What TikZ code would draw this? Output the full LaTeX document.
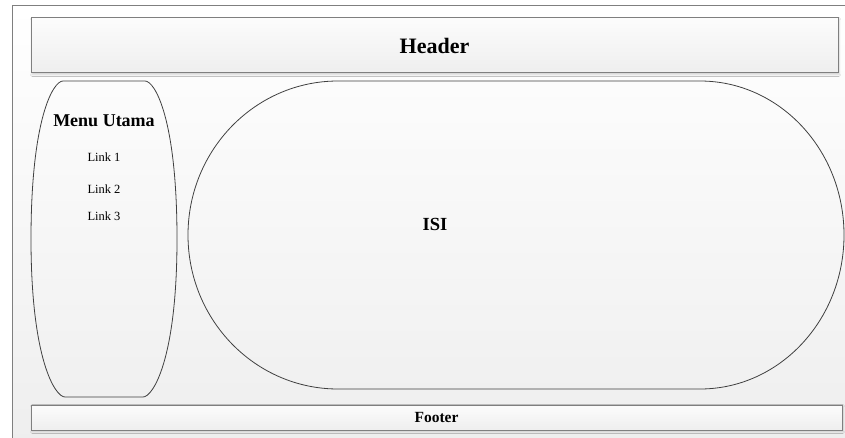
\documentclass[tikz,border=0pt]{standalone}
\usepackage{fontspec}
\setmainfont{Liberation Serif}
\usepackage{tikz}
\usetikzlibrary{positioning,shadows.blur}
\definecolor{LayoutFrame}{HTML}{7F7F7F}
\definecolor{LayoutLine}{HTML}{404040}
\definecolor{LayoutPale}{HTML}{FCFCFC}
\definecolor{LayoutGrey}{HTML}{EEEEEE}

\tikzset{
  bar/.style={draw=LayoutFrame, line width=1pt, top color=LayoutPale, bottom color=LayoutGrey,
    inner sep=0pt, blur shadow={shadow xshift=1pt, shadow yshift=-1.5pt, shadow opacity=18, shadow blur steps=4}},
  blob/.style={draw=LayoutLine, line width=0.8pt},
  linktext/.style={font=\fontsize{12.5}{14}\selectfont}
}

\begin{document}
\begin{tikzpicture}[x=1pt, y=1pt]
\path[use as bounding box] (0,0) rectangle (845,437);
\clip (0,0) rectangle (845,437);

% page frame
\draw[LayoutFrame, line width=1pt, top color=white, bottom color=LayoutGrey] (12,-10) rectangle (860,431);

% header and footer bars
\node[bar, minimum width=807pt, minimum height=55pt, font=\fontsize{22}{26}\selectfont\bfseries] (header) at (434.5,391.5) {Header};
\node[bar, minimum width=811pt, minimum height=25pt, font=\fontsize{15.5}{18}\selectfont\bfseries] (footer) at (436.5,19.5) {Footer};

% side menu
\draw[blob] (63,356) -- (145,356) .. controls (155,356) and (177,318) .. (177,198)
  .. controls (177,78) and (153,40) .. (143,40) -- (65,40)
  .. controls (55,40) and (31,78) .. (31,198) .. controls (31,318) and (53,356) .. (63,356) -- cycle;
\node[font=\fontsize{18}{21}\selectfont\bfseries] (menu) at (104,316) {Menu Utama};
\foreach \n/\y in {1/280,2/248,3/221}{
  \node[linktext] (link\n) at (104,\y) {Link \n};
}

% content area
\draw[blob] (338,356) -- (700,356) arc[start angle=90, end angle=-90, x radius=144pt, y radius=154pt]
  -- (338,48) arc[start angle=270, end angle=90, x radius=150pt, y radius=154pt] -- cycle;
\node[font=\fontsize{18.5}{21}\selectfont\bfseries] (isi) at (435,213) {ISI};
\end{tikzpicture}
\end{document}
